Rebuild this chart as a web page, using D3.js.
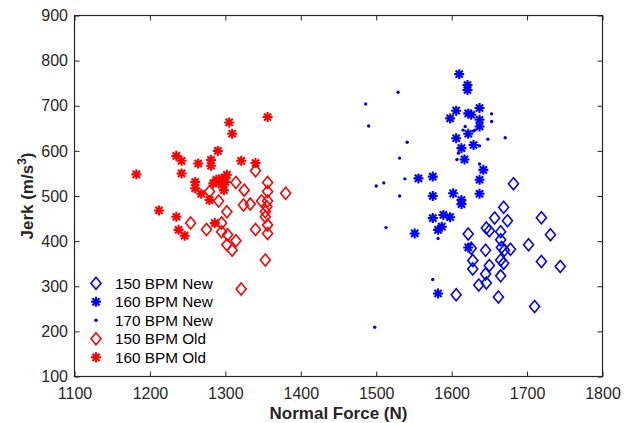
<!DOCTYPE html>
<html><head><meta charset="utf-8">
<script src="https://cdn.jsdelivr.net/npm/d3@7"></script>
<style>body{margin:0;background:#fff}svg{display:block}</style>
</head><body><svg id="c" width="636" height="423"></svg>
<script>
const xTicks=[1100,1200,1300,1400,1500,1600,1700,1800];
const yTicks=[100,200,300,400,500,600,700,800,900];
const seriesNames=["150 BPM New","160 BPM New","170 BPM New","150 BPM Old","160 BPM Old"];

const new150X=[1682,1669,1657,1674,1646,1650,1665,1622,1626,1645,1665,1666,1678,1670,1702,1719,1731,1628,1628,1650,1665,1669,1645,1665,1719,1744,1636,1646,1606,1662,1710];
const new150Y=[527,475,451,445,429,423,421,416,384,380,403,386,382,380,392,452,414,357,338,346,358,351,327,323,355,344,303,307,281,276,255];

const new160X=[1610,1621,1621,1606,1598,1622,1626,1637,1637,1637,1622,1606,1629,1613,1617,1642,1637,1556,1575,1575,1602,1613,1613,1637,1575,1589,1598,1587,1582,1551,1622,1582];
const new160Y=[770,746,735,689,672,683,680,695,669,654,638,628,613,606,581,558,536,539,543,500,506,491,482,505,451,458,453,432,425,417,386,284];

const new170X=[1653,1653,1648,1615,1618,1631,1541,1531,1637,1609,1607,1637,1538,1531,1582,1575,1671,1629,1486,1490,1529,1500,1510,1513,1498];
const new170Y=[682,665,626,646,654,646,619,584,611,595,581,571,538,500,406,315,629,644,704,655,730,522,529,430,209];

const old150X=[1340,1314,1356,1380,1325,1279,1356,1291,1324,1333,1348,1356,1355,1353,1302,1353,1254,1275,1295,1295,1303,1314,1302,1309,1340,1356,1356,1353,1321];
const old150Y=[556,530,530,506,513,510,510,489,480,482,489,489,476,465,465,454,440,426,440,421,414,401,392,380,426,436,417,358,294];

const old160X=[1356,1305,1309,1290,1235,1242,1264,1281,1281,1321,1340,1182,1242,1288,1295,1302,1284,1298,1292,1260,1260,1268,1279,1212,1235,1238,1246,1286,1300,1295];
const old160Y=[675,663,638,600,589,578,572,580,567,578,573,548,550,536,539,547,528,513,530,531,517,505,491,468,454,425,412,440,531,525];

const L=74.5,R=602.5,T=15.5,B=376.5;
const x=d3.scaleLinear().domain([1100,1800]).range([L,R]);
const y=d3.scaleLinear().domain([100,900]).range([B,T]);
const svg=d3.select("#c");
const axCol="#262626";
const font="'Liberation Sans', Arial, sans-serif";

const pts=(xs,ys)=>xs.map((v,i)=>[v,ys[i]]);
const series=[
  {name:seriesNames[0],data:pts(new150X,new150Y),color:"#0000ff",type:"diamond"},
  {name:seriesNames[1],data:pts(new160X,new160Y),color:"#0000ff",type:"star"},
  {name:seriesNames[2],data:pts(new170X,new170Y),color:"#0000ff",type:"dot"},
  {name:seriesNames[3],data:pts(old150X,old150Y),color:"#ff0000",type:"diamond"},
  {name:seriesNames[4],data:pts(old160X,old160Y),color:"#ff0000",type:"star"}
];
function drawSym(g,type,color){
  if(type==="diamond"){
    g.append("path").attr("d","M0,-6L5,0L0,6L-5,0Z").attr("fill","none").attr("stroke",color).attr("stroke-width",1.6);
  }else if(type==="star"){
    g.append("path").attr("d","M-5,0H5M0,-5V5M-3.6,-3.6L3.6,3.6M-3.6,3.6L3.6,-3.6").attr("fill","none").attr("stroke",color).attr("stroke-width",2.1);
  }else{
    g.append("circle").attr("r",1.7).attr("fill",color);
  }
}

// axes
const fmt=d3.format("d");
const gx=svg.append("g").attr("transform",`translate(0,${B})`)
  .call(d3.axisBottom(x).tickValues(xTicks).tickFormat(fmt).tickSizeInner(-5).tickSizeOuter(0).tickPadding(11));
const gy=svg.append("g").attr("transform",`translate(${L},0)`)
  .call(d3.axisLeft(y).tickValues(yTicks).tickFormat(fmt).tickSizeInner(-5).tickSizeOuter(0).tickPadding(6.5));
const gt=svg.append("g").attr("transform",`translate(0,${T})`)
  .call(d3.axisTop(x).tickValues(xTicks).tickSizeInner(-5).tickSizeOuter(0).tickFormat(""));
const gr=svg.append("g").attr("transform",`translate(${R},0)`)
  .call(d3.axisRight(y).tickValues(yTicks).tickSizeInner(-5).tickSizeOuter(0).tickFormat(""));
[gx,gy,gt,gr].forEach(g=>{
  g.select(".domain").remove();
  g.selectAll("line").attr("stroke",axCol).attr("stroke-width",1);
  g.selectAll("text").attr("fill",axCol).style("font-family",font).style("font-size","16px");
});
svg.append("rect").attr("x",L).attr("y",T).attr("width",R-L).attr("height",B-T)
  .attr("fill","none").attr("stroke",axCol).attr("stroke-width",1.2);

// points
series.forEach(s=>{
  const g=svg.append("g");
  s.data.forEach(d=>{
    const p=g.append("g").attr("transform",`translate(${x(d[0])},${y(d[1])})`);
    drawSym(p,s.type,s.color);
  });
});

// labels
svg.append("text").attr("x",(L+R)/2).attr("y",418.5).attr("text-anchor","middle")
  .style("font-family",font).style("font-size","17px").style("font-weight","bold").attr("fill",axCol)
  .text("Normal Force (N)");
const yl=svg.append("text").attr("transform",`translate(33,${(T+B)/2}) rotate(-90)`).attr("text-anchor","middle")
  .style("font-family",font).style("font-size","17px").style("font-weight","bold").attr("fill",axCol);
yl.append("tspan").text("Jerk (m/s");
yl.append("tspan").attr("dy","-7").style("font-size","12px").text("3");
yl.append("tspan").attr("dy","7").text(")");

// legend
const leg=svg.append("g");
series.forEach((s,i)=>{
  const yy=283.3+i*18.5;
  const p=leg.append("g").attr("transform",`translate(96,${yy})`);
  drawSym(p,s.type,s.color);
  leg.append("text").attr("x",115).attr("y",yy).attr("dy","0.35em")
    .style("font-family",font).style("font-size","15.3px").attr("fill","#000").text(s.name);
});
</script></body></html>
